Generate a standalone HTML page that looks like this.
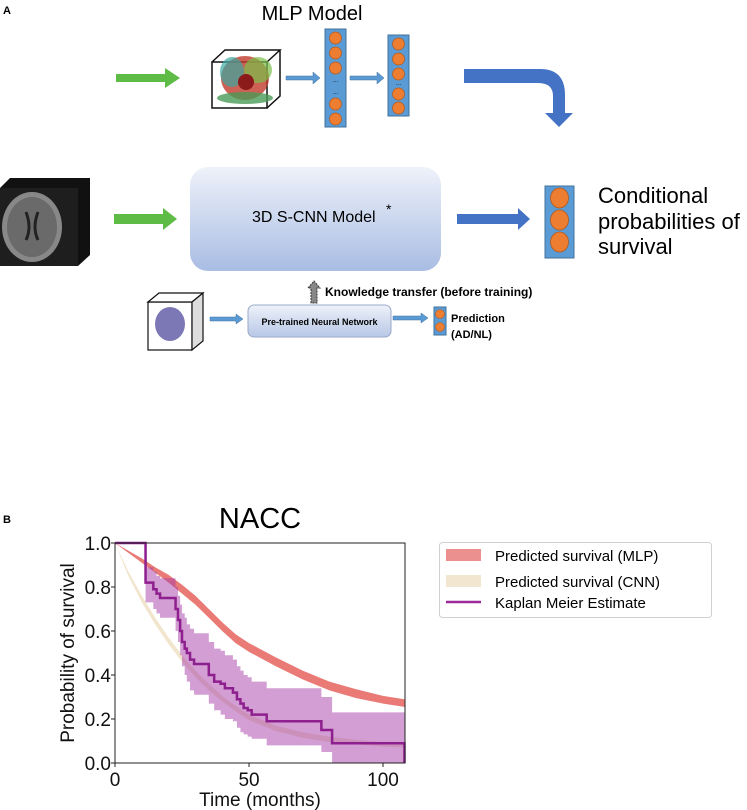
<!DOCTYPE html>
<html><head><meta charset="utf-8"><style>
body{margin:0;background:#fff;}
svg{display:block;font-family:"Liberation Sans",sans-serif;}
</style></head><body>
<svg width="747" height="810" viewBox="0 0 747 810" xmlns="http://www.w3.org/2000/svg">
<defs>
<linearGradient id="boxg" x1="0" y1="0" x2="0" y2="1"><stop offset="0" stop-color="#eef2fa"/><stop offset="1" stop-color="#a9bde3"/></linearGradient>
<linearGradient id="boxs" x1="0" y1="0" x2="0" y2="1"><stop offset="0" stop-color="#eef2fa"/><stop offset="1" stop-color="#b7c7e6"/></linearGradient>
</defs>
<g>
<text x="3" y="14" font-size="11" font-weight="bold">A</text>
<text x="312" y="20" font-size="20" text-anchor="middle">MLP Model</text>
<path d="M116 74 H165 V68 L180 78 L165 88 V82 H116 Z" fill="#5dbb46"/>
<g>
<rect x="212" y="62" width="55" height="46" fill="#fff" stroke="#111" stroke-width="1.5"/>
<path d="M212 62 L225 50 L280 50 L267 62 M267 108 L280 96 L280 50" fill="none" stroke="#111" stroke-width="1.5"/>
<ellipse cx="245" cy="78" rx="24" ry="22" fill="#c0392b" opacity="0.8"/>
<ellipse cx="232" cy="72" rx="12" ry="15" fill="#3aa6a0" opacity="0.7"/>
<ellipse cx="258" cy="70" rx="14" ry="13" fill="#7bbf4a" opacity="0.7"/>
<ellipse cx="245" cy="98" rx="28" ry="6" fill="#4a9a56" opacity="0.8"/>
<ellipse cx="246" cy="82" rx="8" ry="8" fill="#8b1a1a"/>
</g>
<path d="M286 76 H313 V72 L320 78 L313 84 V80 H286 Z" fill="#5b9bd5" stroke="#41719c" stroke-width="0.5"/>
<path d="M350 76 H377 V72 L384 78 L377 84 V80 H350 Z" fill="#5b9bd5" stroke="#41719c" stroke-width="0.5"/>
<g>
<rect x="325" y="29" width="21" height="98" fill="#5b9bd5" stroke="#41719c"/>
<g fill="#ed7d31" stroke="#ae5a21" stroke-width="0.7">
<ellipse cx="335.5" cy="38" rx="6" ry="6"/><ellipse cx="335.5" cy="53" rx="6" ry="6"/><ellipse cx="335.5" cy="68" rx="6" ry="6"/>
<ellipse cx="335.5" cy="104" rx="6" ry="6"/><ellipse cx="335.5" cy="119" rx="6" ry="6"/></g>
<text x="335.5" y="82" font-size="6" text-anchor="middle">...</text><text x="335.5" y="94" font-size="6" text-anchor="middle">...</text>
</g>
<g>
<rect x="388" y="35" width="21" height="81" fill="#5b9bd5" stroke="#41719c"/>
<g fill="#ed7d31" stroke="#ae5a21" stroke-width="0.7">
<ellipse cx="398.5" cy="44" rx="6" ry="6"/><ellipse cx="398.5" cy="59" rx="6" ry="6"/><ellipse cx="398.5" cy="74" rx="6" ry="6"/>
<ellipse cx="398.5" cy="94" rx="6" ry="6"/><ellipse cx="398.5" cy="108" rx="6" ry="6"/></g>
<text x="398.5" y="85" font-size="6" text-anchor="middle">...</text>
</g>
<path d="M464 69 H540 Q565 69 565 95 V113 H573 L559 127 L545 113 H553 V96 Q553 83 538 83 H464 Z" fill="#4472c4"/>
<g>
<path d="M0 188 L10 178 L90 178 L90 255 L78 266 L0 266 Z" fill="#111"/>
<rect x="0" y="188" width="78" height="78" fill="#1e1e1e"/>
<ellipse cx="32" cy="227" rx="30" ry="35" fill="#888"/>
<ellipse cx="32" cy="227" rx="25" ry="30" fill="#6a6a6a"/>
<path d="M26 212 Q32 228 26 240 M38 212 Q32 228 38 240" stroke="#222" stroke-width="3" fill="none"/>
</g>
<path d="M114 214 H163 V208 L177 219 L163 230 V224 H114 Z" fill="#5dbb46"/>
<rect x="190" y="167" width="251" height="104" rx="18" fill="url(#boxg)"/>
<text x="252" y="222" font-size="16">3D S-CNN Model</text>
<text x="386" y="214" font-size="14">*</text>
<path d="M457 214 H518 V208 L530 219 L518 230 V224 H457 Z" fill="#4472c4"/>
<g>
<rect x="545" y="186" width="29" height="72" fill="#5b9bd5" stroke="#41719c"/>
<g fill="#ed7d31" stroke="#ae5a21" stroke-width="0.8">
<ellipse cx="559.5" cy="198" rx="9" ry="10"/><ellipse cx="559.5" cy="220" rx="9" ry="10"/><ellipse cx="559.5" cy="242" rx="9" ry="10"/></g>
</g>
<g font-size="22">
<text x="598" y="203">Conditional</text><text x="598" y="229">probabilities of</text><text x="598" y="254">survival</text>
</g>
<path d="M311 303 V288 H308 L314 281 L320 288 H317 V303 Z" fill="#888" stroke="#333" stroke-dasharray="2 1"/>
<text x="325" y="296" font-size="12" font-weight="bold">Knowledge transfer (before training)</text>
<g>
<rect x="148" y="302" width="44" height="48" fill="#fff" stroke="#111" stroke-width="1.2"/>
<path d="M148 302 L159 293 L203 293 L192 302 Z" fill="#fff" stroke="#111" stroke-width="1.2"/>
<path d="M192 302 L203 293 L203 341 L192 350 Z" fill="#ddd" stroke="#111" stroke-width="1.2"/>
<ellipse cx="170" cy="324" rx="15" ry="17" fill="#7b78b5"/>
</g>
<path d="M210 317 H236 V314 L243 319 L236 324 V321 H210 Z" fill="#5b9bd5" stroke="#41719c" stroke-width="0.5"/>
<rect x="248" y="305" width="143" height="32" rx="6" fill="url(#boxs)" stroke="#9aaac8"/>
<text x="319.5" y="325" font-size="9" font-weight="bold" text-anchor="middle">Pre-trained Neural Network</text>
<path d="M393 316 H421 V313 L428 318 L421 323 V320 H393 Z" fill="#5b9bd5" stroke="#41719c" stroke-width="0.5"/>
<g>
<rect x="434" y="307" width="12" height="28" fill="#5b9bd5" stroke="#41719c"/>
<circle cx="440" cy="314" r="4.5" fill="#ed7d31" stroke="#ae5a21" stroke-width="0.6"/><circle cx="440" cy="327" r="4.5" fill="#ed7d31" stroke="#ae5a21" stroke-width="0.6"/>
</g>
<text x="451" y="322" font-size="11" font-weight="bold">Prediction</text>
<text x="451" y="338" font-size="11" font-weight="bold">(AD/NL)</text>
</g>
<g>
<text x="3" y="523" font-size="11" font-weight="bold">B</text>
<text x="260" y="528" font-size="29" text-anchor="middle">NACC</text>
<g id="plot"></g>
<g>
<rect x="439.5" y="542.5" width="272" height="75" rx="3" fill="#fff" stroke="#d0d0d0"/>
<rect x="446" y="549" width="35" height="12" fill="#ec8f8f"/>
<text x="495" y="561" font-size="15">Predicted survival (MLP)</text>
<rect x="446" y="575" width="35" height="12" fill="#f2e6d0"/>
<text x="495" y="587" font-size="15">Predicted survival (CNN)</text>
<line x1="446" y1="602" x2="481" y2="602" stroke="#9b2b9b" stroke-width="2.5"/>
<text x="495" y="608" font-size="15">Kaplan Meier Estimate</text>
</g>
</g>
</svg>
<script>
const xTicks=[0,50,100];
const yTicks=[0,0.2,0.4,0.6,0.8,1.0];
const yTickLabels=["0.0","0.2","0.4","0.6","0.8","1.0"];
const curveMonths=[0,5,10,15,20,25,30,35,40,45,50,60,70,80,90,100,108];
const mlpUpper=[1.0,0.965,0.93,0.89,0.855,0.81,0.76,0.70,0.64,0.585,0.545,0.48,0.42,0.37,0.335,0.305,0.29];
const mlpLower=[1.0,0.955,0.91,0.865,0.82,0.77,0.72,0.66,0.60,0.545,0.505,0.44,0.38,0.33,0.295,0.27,0.255];
const cnnUpper=[1.0,0.87,0.76,0.66,0.57,0.49,0.42,0.36,0.305,0.26,0.22,0.17,0.14,0.12,0.105,0.095,0.09];
const cnnLower=[1.0,0.85,0.73,0.63,0.54,0.46,0.39,0.33,0.28,0.235,0.195,0.145,0.115,0.095,0.085,0.075,0.07];
const kmMonths=[0,11.4,14.3,15.5,16.8,22.6,23.5,24.3,25,26,26.8,28,29.5,35,37,39.4,41,44,45.5,46.8,48,49.5,51,56.6,77,81,107.5,108];
const kmSurv=[1.0,0.82,0.79,0.77,0.75,0.70,0.65,0.60,0.55,0.52,0.50,0.47,0.45,0.40,0.37,0.36,0.34,0.32,0.29,0.27,0.25,0.24,0.22,0.19,0.15,0.09,0.09,0.0];
const kmUpper=[1.0,0.89,0.87,0.85,0.84,0.80,0.76,0.72,0.68,0.66,0.63,0.61,0.59,0.55,0.52,0.51,0.49,0.47,0.44,0.42,0.40,0.39,0.37,0.34,0.30,0.23,0.23,0.23];
const kmLower=[1.0,0.73,0.70,0.68,0.66,0.60,0.55,0.49,0.44,0.40,0.37,0.33,0.31,0.27,0.24,0.22,0.20,0.19,0.16,0.14,0.13,0.12,0.11,0.08,0.05,0.0,0.0,0.0];

const NS="http://www.w3.org/2000/svg";
const X0=115,X1=405,Y0=763,Y1=543,XMAX=108.2;
const sx=v=>X0+v/XMAX*(X1-X0);
const sy=v=>Y0-v*(Y0-Y1);
const plot=document.getElementById('plot');


function mk(tag,attrs){const e=document.createElementNS(NS,tag);for(const k in attrs)e.setAttribute(k,attrs[k]);plot.appendChild(e);return e;}
function band(xs,up,lo){let d='M'+xs.map((x,i)=>sx(x)+' '+sy(up[i])).join(' L');for(let i=xs.length-1;i>=0;i--)d+=' L'+sx(xs[i])+' '+sy(lo[i]);return d+' Z';}
function stepBand(xs,up,lo){let d='M'+sx(xs[0])+' '+sy(up[0]);for(let i=1;i<xs.length;i++)d+=' L'+sx(xs[i])+' '+sy(up[i-1])+' L'+sx(xs[i])+' '+sy(up[i]);for(let i=xs.length-1;i>0;i--)d+=' L'+sx(xs[i])+' '+sy(lo[i])+' L'+sx(xs[i])+' '+sy(lo[i-1]);d+=' L'+sx(xs[0])+' '+sy(lo[0]);return d+' Z';}
const cb=mk('path',{d:band(curveMonths,cnnUpper,cnnLower),fill:'#ecdcbc',opacity:'0.75'});


const mb=mk('path',{d:band(curveMonths,mlpUpper,mlpLower),fill:'#e8736f',opacity:'0.95'});


const ci=mk('path',{d:stepBand(kmMonths,kmUpper,kmLower),fill:'#a83ea8',opacity:'0.5'});


let d='M'+sx(kmMonths[0])+' '+sy(kmSurv[0]);
for(let i=1;i<kmMonths.length;i++)d+=' H'+sx(kmMonths[i])+' V'+sy(kmSurv[i]);
const km=mk('path',{d:d,fill:'none',stroke:'#8e1f8e','stroke-width':'2.5'});


const fr=mk('rect',{x:X0,y:Y1,width:X1-X0,height:Y0-Y1,fill:'none',stroke:'#222','stroke-width':'1'});


xTicks.forEach(t=>{
 const tl=mk('line',{x1:sx(t),x2:sx(t),y1:Y0,y2:Y0+4,stroke:'#222'});
 
 
 const tx=mk('text',{x:sx(t),y:Y0+23,'font-size':'19','text-anchor':'middle',fill:'#111'});tx.textContent=t;
 
 
});
yTicks.forEach((t,i)=>{
 const tl=mk('line',{x1:X0-4,x2:X0,y1:sy(t),y2:sy(t),stroke:'#222'});
 
 
 const tx=mk('text',{x:X0-4,y:sy(t)+7,'font-size':'19','text-anchor':'end',fill:'#111'});tx.textContent=yTickLabels[i];
 
 
});
const xl=mk('text',{x:260,y:806,'font-size':'19','text-anchor':'middle',fill:'#111'});xl.textContent='Time (months)';


const yl=mk('text',{x:0,y:0,'font-size':'19','text-anchor':'middle',fill:'#111',transform:'translate(74 653) rotate(-90)'});yl.textContent='Probability of survival';


</script>
</body></html>
